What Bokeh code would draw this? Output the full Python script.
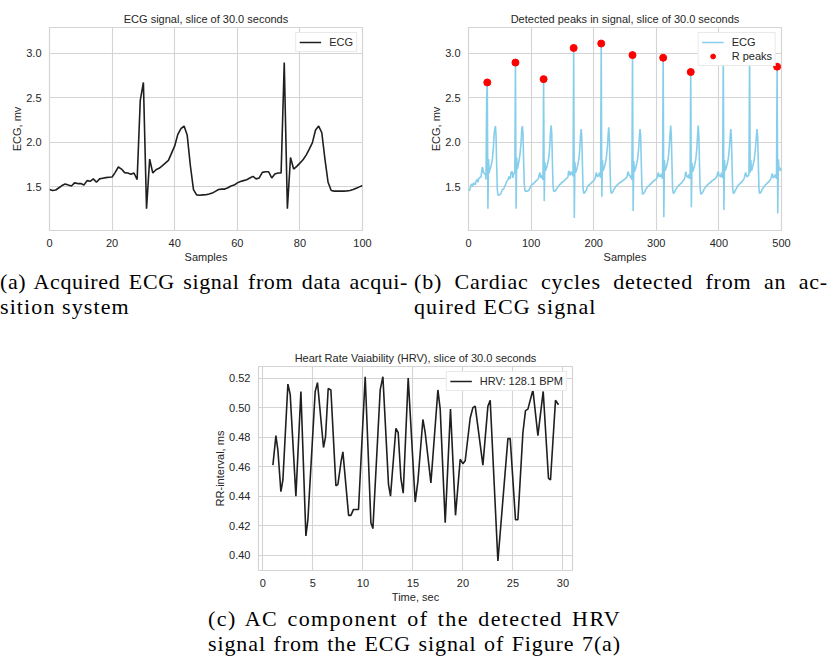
from bokeh.plotting import figure
from bokeh.layouts import column, row
from bokeh.models import (Div, Spacer, FixedTicker, NumeralTickFormatter, Range1d,
                          GlobalInlineStyleSheet)
from bokeh.embed import file_html
from bokeh.resources import INLINE

# ---------------- data ----------------
ECG_A = [1.47, 1.46, 1.465, 1.49, 1.515, 1.533, 1.52, 1.51, 1.545, 1.537,
         1.537, 1.522, 1.57, 1.563, 1.59, 1.552, 1.59, 1.597, 1.604, 1.608,
         1.611, 1.663, 1.723, 1.70, 1.66, 1.656, 1.641, 1.656, 1.582, 2.472,
         2.673, 1.255, 1.812, 1.656, 1.693, 1.708, 1.737, 1.767, 1.797, 1.879,
         1.96, 2.09, 2.153, 2.183, 2.079, 1.74, 1.47, 1.41, 1.405, 1.41,
         1.411, 1.42, 1.43, 1.45, 1.47, 1.475, 1.475, 1.49, 1.51, 1.52,
         1.545, 1.56, 1.57, 1.58, 1.60, 1.618, 1.59, 1.60, 1.663, 1.67,
         1.67, 1.60, 1.645, 1.656, 1.656, 2.896, 1.255, 1.83, 1.70, 1.73,
         1.767, 1.804, 1.856, 1.923, 1.997, 2.138, 2.183, 2.108, 1.812, 1.552,
         1.459, 1.452, 1.452, 1.452, 1.452, 1.455, 1.459, 1.47, 1.485, 1.50,
         1.515]

ECG_B = ECG_A + [
    1.52, 1.53, 1.53, 1.54, 1.55, 1.55, 1.56, 1.57, 1.57, 1.58,
    1.59, 1.60, 1.64, 1.66, 1.62, 1.60, 1.63, 1.60, 1.58, 2.71,
    1.34, 1.78, 1.68, 1.70, 1.72, 1.75, 1.78, 1.82, 1.88, 1.98,
    2.12, 2.19, 2.10, 1.80, 1.52, 1.45, 1.45, 1.45, 1.46, 1.47,
    1.48, 1.49, 1.50, 1.51, 1.52, 1.53, 1.53, 1.54, 1.55, 1.55,
    1.56, 1.56, 1.57, 1.58, 1.58, 1.59, 1.60, 1.60, 1.62, 1.68,
    1.66, 1.63, 1.64, 1.67, 1.66, 1.64, 1.62, 3.06, 1.15, 1.78,
    1.66, 1.68, 1.70, 1.73, 1.76, 1.80, 1.86, 1.95, 2.08, 2.15,
    2.05, 1.75, 1.48, 1.43, 1.43, 1.44, 1.45, 1.46, 1.48, 1.50,
    1.51, 1.52, 1.52, 1.53, 1.54, 1.54, 1.55, 1.56, 1.56, 1.57,
    1.58, 1.59, 1.62, 1.66, 1.64, 1.61, 1.63, 1.62, 1.66, 1.64,
    1.60, 3.11, 1.39, 1.80, 1.68, 1.70, 1.72, 1.75, 1.78, 1.82,
    1.88, 1.96, 2.08, 2.17, 2.06, 1.75, 1.48, 1.43, 1.43, 1.44,
    1.45, 1.47, 1.48, 1.49, 1.50, 1.51, 1.52, 1.52, 1.53, 1.54,
    1.54, 1.55, 1.55, 1.56, 1.56, 1.57, 1.57, 1.58, 1.58, 1.59,
    1.60, 1.60, 1.61, 1.64, 1.67, 1.65, 1.62, 1.63, 1.60, 1.62,
    1.58, 2.98, 1.23, 1.79, 1.67, 1.69, 1.71, 1.74, 1.77, 1.81,
    1.87, 1.95, 2.06, 2.15, 2.08, 1.78, 1.50, 1.42, 1.42, 1.43,
    1.44, 1.45, 1.47, 1.48, 1.49, 1.50, 1.51, 1.51, 1.52, 1.53,
    1.53, 1.54, 1.55, 1.55, 1.56, 1.57, 1.57, 1.58, 1.58, 1.59,
    1.60, 1.62, 1.66, 1.64, 1.61, 1.63, 1.61, 1.65, 1.62, 1.59,
    2.95, 1.16, 1.80, 1.68, 1.70, 1.72, 1.75, 1.78, 1.82, 1.89,
    1.98, 2.10, 2.19, 2.08, 1.76, 1.48, 1.43, 1.43, 1.44, 1.45,
    1.47, 1.48, 1.49, 1.50, 1.51, 1.52, 1.52, 1.53, 1.54, 1.54,
    1.55, 1.56, 1.57, 1.58, 1.59, 1.62, 1.67, 1.65, 1.61, 1.62,
    1.60, 1.64, 1.61, 1.59, 2.79, 1.27, 1.77, 1.67, 1.69, 1.71,
    1.74, 1.77, 1.81, 1.87, 1.96, 2.09, 2.19, 2.07, 1.76, 1.48,
    1.42, 1.42, 1.43, 1.44, 1.45, 1.47, 1.48, 1.49, 1.50, 1.51,
    1.52, 1.52, 1.53, 1.54, 1.54, 1.55, 1.55, 1.56, 1.57, 1.57,
    1.58, 1.58, 1.59, 1.59, 1.60, 1.61, 1.62, 1.66, 1.67, 1.64,
    1.62, 1.63, 1.61, 1.66, 1.63, 1.60, 3.02, 1.24, 1.80, 1.68,
    1.70, 1.72, 1.75, 1.78, 1.82, 1.88, 1.96, 2.06, 2.15, 2.05,
    1.75, 1.48, 1.43, 1.43, 1.44, 1.46, 1.47, 1.48, 1.50, 1.51,
    1.52, 1.53, 1.53, 1.54, 1.55, 1.55, 1.56, 1.57, 1.58, 1.59,
    1.61, 1.65, 1.66, 1.63, 1.61, 1.63, 1.62, 1.64, 3.00, 1.66,
    1.80, 1.68, 1.70, 1.73, 1.76, 1.79, 1.84, 1.90, 1.99, 2.08,
    2.15, 2.05, 1.76, 1.48, 1.43, 1.43, 1.44, 1.45, 1.47, 1.48,
    1.49, 1.50, 1.51, 1.52, 1.53, 1.53, 1.54, 1.55, 1.55, 1.56,
    1.57, 1.58, 1.59, 1.61, 1.65, 1.63, 1.60, 1.62, 1.61, 1.64,
    1.62, 1.59, 2.85, 1.20, 1.81, 1.70, 1.72, 1.68, 1.70, 1.71]

SAMPLES_A = list(range(len(ECG_A)))
SAMPLES_B = list(range(len(ECG_B)))

R_PEAKS = [30, 75, 120, 168, 212, 262, 311, 355, 407, 449, 493]
R_VALUES = [ECG_B[i] for i in R_PEAKS]

HRV_T = [1.0, 1.3, 1.5, 1.8, 2.0, 2.5, 2.73, 3.3, 3.8, 4.3,
         4.5, 5.23, 5.46, 6.06, 6.26, 6.53, 6.8, 7.3, 7.5, 7.83,
         8.0, 8.57, 8.8, 9.06, 9.3, 9.56, 10.23, 10.8, 11.0, 11.73,
         12.0, 12.56, 12.76, 13.3, 13.53, 13.8, 14.03, 14.53, 15.23, 15.5,
         16.0, 16.23, 16.8, 17.5, 17.73, 18.23, 18.76, 19.26, 19.73, 20.0,
         20.23, 20.73, 21.0, 21.23, 22.0, 22.5, 22.73, 23.5, 24.5, 24.73,
         25.26, 25.5, 26.0, 26.26, 26.5, 27.0, 27.5, 28.03, 28.56, 28.76,
         29.26, 29.56]
HRV_RR = [0.461, 0.481, 0.471, 0.443, 0.451, 0.516, 0.509, 0.440, 0.511, 0.413,
          0.424, 0.511, 0.517, 0.473, 0.480, 0.513, 0.512, 0.447, 0.448, 0.464,
          0.470, 0.427, 0.427, 0.431, 0.431, 0.431, 0.521, 0.422, 0.418, 0.512,
          0.521, 0.448, 0.440, 0.486, 0.483, 0.452, 0.442, 0.520, 0.436, 0.450,
          0.492, 0.483, 0.449, 0.512, 0.499, 0.422, 0.499, 0.427, 0.465, 0.462,
          0.464, 0.493, 0.500, 0.501, 0.461, 0.501, 0.505, 0.396, 0.479, 0.479,
          0.424, 0.424, 0.483, 0.498, 0.499, 0.512, 0.481, 0.511, 0.452, 0.451,
          0.505, 0.502]

X_TICKS_A = [0, 20, 40, 60, 80, 100]
X_TICKS_B = [0, 100, 200, 300, 400, 500]
Y_TICKS_ECG = [1.5, 2.0, 2.5, 3.0]
X_TICKS_C = [0, 5, 10, 15, 20, 25, 30]
Y_TICKS_C = [0.40, 0.42, 0.44, 0.46, 0.48, 0.50, 0.52]

CAPTION_A = ["(a) Acquired ECG signal from data acqui-", "sition system"]
CAPTION_B = ["(b) Cardiac cycles detected from an ac-", "quired ECG signal"]
CAPTION_C = ["(c) AC component of the detected HRV",
             "signal from the ECG signal of Figure 7(a)"]

# ---------------- style ----------------
SANS = "Liberation Sans"
TXT = "#262626"
GRID = "#d4d4d4"


def style(p, xt, yt, yfmt, xlabel, ylabel):
    p.title.text_font = SANS
    p.title.text_font_size = "11px"
    p.title.text_font_style = "normal"
    p.title.text_color = TXT
    p.title.align = "center"
    p.title.standoff = 6
    p.background_fill_color = "white"
    p.border_fill_color = "white"
    p.outline_line_color = GRID
    p.outline_line_width = 1.2
    p.xaxis.ticker = FixedTicker(ticks=xt)
    p.yaxis.ticker = FixedTicker(ticks=yt)
    p.xaxis.formatter = NumeralTickFormatter(format="0")
    p.yaxis.formatter = NumeralTickFormatter(format=yfmt)
    p.xaxis.axis_label = xlabel
    p.yaxis.axis_label = ylabel
    for ax in (p.xaxis[0], p.yaxis[0]):
        ax.axis_line_color = None
        ax.major_tick_line_color = None
        ax.minor_tick_line_color = None
        ax.major_tick_out = 0
        ax.major_tick_in = 0
        ax.minor_tick_out = 0
        ax.major_label_text_font = SANS
        ax.major_label_text_font_size = "11px"
        ax.major_label_text_color = TXT
        ax.axis_label_text_font = SANS
        ax.axis_label_text_font_size = "11px"
        ax.axis_label_text_font_style = "normal"
        ax.axis_label_text_color = TXT
    p.xaxis.major_label_standoff = 8
    p.yaxis.major_label_standoff = 8
    p.xaxis.axis_label_standoff = 1
    p.yaxis.axis_label_standoff = 0
    for g in (p.xgrid[0], p.ygrid[0]):
        g.grid_line_color = GRID
        g.grid_line_width = 1.1


def style_legend(p):
    lg = p.legend[0]
    lg.location = "top_right"
    lg.margin = 5
    lg.padding = 3
    lg.spacing = 2
    lg.glyph_width = 22
    lg.glyph_height = 12
    lg.label_height = 12
    lg.label_standoff = 8
    lg.label_text_font = SANS
    lg.label_text_font_size = "11px"
    lg.label_text_color = TXT
    lg.border_line_color = GRID
    lg.border_line_width = 1
    lg.background_fill_color = "white"
    lg.background_fill_alpha = 1.0


# ---------------- figure (a) ----------------
pa = figure(width=419, height=266, x_range=Range1d(0, 100), y_range=Range1d(1.01, 3.29),
            title="ECG signal, slice of 30.0 seconds",
            min_border_left=49, min_border_right=57, min_border_top=27, min_border_bottom=36,
            output_backend="svg", toolbar_location=None)
pa.line(SAMPLES_A, ECG_A, line_color="#1f1f1f", line_width=1.6, legend_label="ECG")
style(pa, X_TICKS_A, Y_TICKS_ECG, "0.0", "Samples", "ECG, mv")
style_legend(pa)

# ---------------- figure (b) ----------------
pb = figure(width=411, height=266, x_range=Range1d(0, 500), y_range=Range1d(1.01, 3.29),
            title="Detected peaks in signal, slice of 30.0 seconds",
            min_border_left=49, min_border_right=49, min_border_top=27, min_border_bottom=36,
            output_backend="svg", toolbar_location=None)
pb.line(SAMPLES_B, ECG_B, line_color="#87ceeb", line_width=1.6, legend_label="ECG")
pb.scatter(R_PEAKS, R_VALUES, size=7, marker="circle", fill_color="red",
           line_color="red", legend_label="R peaks")
style(pb, X_TICKS_B, Y_TICKS_ECG, "0.0", "Samples", "ECG, mv")
style_legend(pb)

# ---------------- figure (c) ----------------
pc = figure(width=430, height=288, x_range=Range1d(-0.44, 30.96), y_range=Range1d(0.3896, 0.5279),
            title="Heart Rate Vaiability (HRV), slice of 30.0 seconds",
            min_border_left=58, min_border_right=58, min_border_top=48, min_border_bottom=36,
            output_backend="svg", toolbar_location=None)
pc.line(HRV_T, HRV_RR, line_color="#1f1f1f", line_width=1.6,
        legend_label="HRV: 128.1 BPM")
style(pc, X_TICKS_C, Y_TICKS_C, "0.00", "Time, sec", "RR-interval, ms")
style_legend(pc)

# ---------------- captions ----------------
CAP = ("font-family:'Liberation Serif',serif;font-size:22px;line-height:25px;"
       "color:#000;")
JUST = "text-align:justify;text-align-last:justify;"


def two_line_caption(lines, left, text_width, pad_top, ls1, ls2, justify_last=False):
    last = JUST if justify_last else "text-align:left;"
    return (f'<div style="{CAP}padding-top:{pad_top}px;margin-left:{left}px;">'
            f'<div style="width:{text_width}px;letter-spacing:{ls1}px;{JUST}">{lines[0]}</div>'
            f'<div style="width:{text_width}px;letter-spacing:{ls2}px;{last}">{lines[1]}</div>'
            f'</div>')


cap_a = Div(text=two_line_caption(CAPTION_A, 0, 408, 3, 0.6, 1.1), width=414, height=52,
            margin=(0, 0, 0, 0))
cap_b = Div(text=two_line_caption(CAPTION_B, 0, 414, 3, 0.8, 1.1), width=416, height=52,
            margin=(0, 0, 0, 0))
cap_c = Div(text=two_line_caption(CAPTION_C, 208, 413, 0, 1.4, 0.9, justify_last=True),
            width=830, height=51, margin=(0, 0, 0, 0))

row1 = row(pa, pb, spacing=0)
row2 = row(cap_a, cap_b, spacing=0)
row3 = row(Spacer(width=200, height=288, margin=(0, 0, 0, 0)), pc,
           Spacer(width=200, height=288, margin=(0, 0, 0, 0)), spacing=0)
page = column(row1, row2, row3, cap_c, spacing=0)
page.stylesheets = [GlobalInlineStyleSheet(css="html, body { margin: 0; padding: 0; }")]

open("out.html", "w").write(file_html(page, INLINE))
